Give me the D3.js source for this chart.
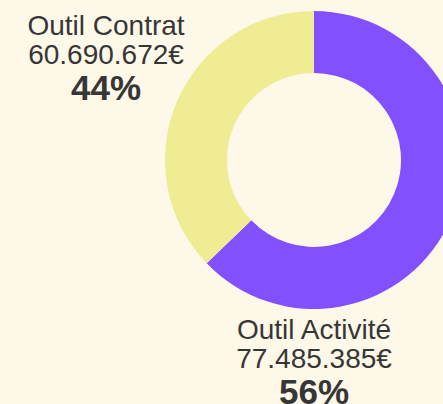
<!DOCTYPE html>
<html>
<head>
<meta charset="utf-8">
<script src="https://cdn.jsdelivr.net/npm/d3@7"></script>
<style>
  html, body { margin: 0; padding: 0; background: #fef8e8; }
  svg { display: block; }
</style>
</head>
<body>
<div id="chart"></div>
<script>
// données du graphique
const labels = ["Outil Activité", "Outil Contrat"];
const amounts = ["77.485.385€", "60.690.672€"];
const percents = ["56%", "44%"];
// parts des arcs telles que dessinées dans l'image
const arcShares = [62.8, 37.2];
const colors = ["#8250fe", "#efec94"];

const width = 443, height = 404;
const cx = 314, cy = 160;
const outerR = 149, innerR = 87;

const svg = d3.select("#chart")
    .append("svg")
    .attr("width", width)
    .attr("height", height);

const pie = d3.pie().sort(null).value(d => d);
const arc = d3.arc().innerRadius(innerR).outerRadius(outerR);

const g = svg.append("g").attr("transform", `translate(${cx},${cy})`);

g.selectAll("path")
    .data(pie(arcShares))
    .join("path")
    .attr("d", arc)
    .attr("fill", (d, i) => colors[i]);

// positions des étiquettes, relatives au centre
const labelPos = [
    {x: 0, y: outerR + 30},
    {x: -208, y: -125}
];

const lab = g.selectAll("g.label")
    .data(labels)
    .join("g")
    .attr("class", "label")
    .attr("transform", (d, i) => `translate(${labelPos[i].x},${labelPos[i].y})`)
    .attr("text-anchor", "middle")
    .attr("fill", "#363636");

lab.append("text")
    .attr("font-family", "Liberation Sans, Arial, sans-serif")
    .attr("font-size", 28)
    .text(d => d);

lab.append("text")
    .attr("y", 28.5)
    .attr("font-family", "Liberation Sans, Arial, sans-serif")
    .attr("font-size", 28)
    .text((d, i) => amounts[i]);

lab.append("text")
    .attr("y", 65)
    .attr("font-family", "Liberation Sans, Arial, sans-serif")
    .attr("font-size", 35)
    .attr("font-weight", "bold")
    .text((d, i) => percents[i]);
</script>
</body>
</html>
